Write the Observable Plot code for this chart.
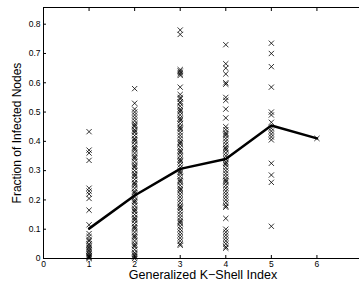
<!DOCTYPE html>
<html>
<head>
<meta charset="utf-8">
<script src="https://cdn.jsdelivr.net/npm/d3@7"></script>
<script src="https://cdn.jsdelivr.net/npm/@observablehq/plot@0.6"></script>
<style>
html, body { margin: 0; padding: 0; background: #fff; }
</style>
</head>
<body>
<div id="chart"></div>
<script>
// Generalized K-Shell index columns
const shell1 = [0.433, 0.37, 0.36, 0.335, 0.24, 0.23, 0.22, 0.205, 0.165, 0.115, 0.085, 0.075, 0.065, 0.06, 0.05, 0.045, 0.04, 0.035, 0.03, 0.025, 0.02, 0.015, 0.01, 0.008, 0.005, 0.003, 0.0];
const shell2 = [0.58, 0.53, 0.51, 0.50, 0.49, 0.48, 0.47, 0.46, 0.455, 0.45, 0.44, 0.435, 0.43, 0.42, 0.41, 0.405, 0.40, 0.39, 0.38, 0.375, 0.37, 0.36, 0.35, 0.345, 0.34, 0.33, 0.32, 0.315, 0.31, 0.30, 0.29, 0.285, 0.28, 0.27, 0.26, 0.255, 0.25, 0.24, 0.23, 0.225, 0.22, 0.21, 0.20, 0.195, 0.19, 0.18, 0.17, 0.165, 0.16, 0.15, 0.14, 0.135, 0.13, 0.12, 0.11, 0.105, 0.10, 0.09, 0.08, 0.075, 0.07, 0.06, 0.05, 0.045, 0.04, 0.03, 0.02, 0.015, 0.01, 0.005, 0.0];
const shell3 = [0.78, 0.765, 0.645, 0.64, 0.635, 0.63, 0.625, 0.585, 0.56, 0.55, 0.545, 0.535, 0.53, 0.52, 0.51, 0.505, 0.50, 0.49, 0.48, 0.475, 0.47, 0.46, 0.45, 0.445, 0.44, 0.43, 0.42, 0.41, 0.40, 0.395, 0.39, 0.38, 0.37, 0.365, 0.36, 0.35, 0.34, 0.335, 0.33, 0.32, 0.31, 0.30, 0.295, 0.29, 0.28, 0.27, 0.265, 0.26, 0.25, 0.24, 0.235, 0.23, 0.22, 0.21, 0.20, 0.19, 0.18, 0.175, 0.17, 0.16, 0.15, 0.14, 0.13, 0.125, 0.12, 0.11, 0.10, 0.09, 0.08, 0.07, 0.06, 0.05, 0.045];
const shell4 = [0.73, 0.665, 0.65, 0.63, 0.60, 0.595, 0.55, 0.54, 0.51, 0.48, 0.45, 0.44, 0.43, 0.425, 0.42, 0.41, 0.40, 0.39, 0.38, 0.375, 0.37, 0.36, 0.35, 0.34, 0.33, 0.325, 0.32, 0.31, 0.30, 0.29, 0.28, 0.27, 0.265, 0.26, 0.25, 0.24, 0.23, 0.22, 0.21, 0.20, 0.19, 0.18, 0.175, 0.137, 0.10, 0.09, 0.08, 0.07, 0.06, 0.05, 0.04, 0.035];
const shell5 = [0.735, 0.70, 0.655, 0.585, 0.50, 0.49, 0.465, 0.445, 0.435, 0.425, 0.415, 0.405, 0.325, 0.285, 0.26, 0.11];
const shell6 = [0.41];

// average line
const meanX = [1, 2, 3, 4, 5, 6];
const meanY = [0.102, 0.215, 0.306, 0.34, 0.454, 0.41];

const xTicks = [0, 1, 2, 3, 4, 5, 6];
const yTicks = [0, 0.1, 0.2, 0.3, 0.4, 0.5, 0.6, 0.7, 0.8];

const columns = [shell1, shell2, shell3, shell4, shell5, shell6];
const points = columns.flatMap((vals, i) => vals.map(v => ({k: i + 1, f: v})));
const meanLine = meanX.map((x, i) => ({k: x, f: meanY[i]}));

const font = "'Liberation Sans', Arial, Helvetica, sans-serif";

const chart = Plot.plot({
  width: 359,
  height: 287,
  marginLeft: 43,
  marginRight: -3,
  marginTop: 7,
  marginBottom: 29,
  style: {fontFamily: font, background: "#fff", color: "#000"},
  x: {domain: [0, 7]},
  y: {domain: [0, 0.857]},
  marks: [
    Plot.frame({anchor: "top", stroke: "#000", strokeWidth: 1}),
    Plot.frame({anchor: "bottom", stroke: "#000", strokeWidth: 1}),
    Plot.frame({anchor: "left", stroke: "#000", strokeWidth: 1}),
    Plot.axisX(xTicks, {anchor: "bottom", tickSize: -3, tickPadding: 5, fontSize: 8.5, label: null, tickFormat: d => String(d)}),
    Plot.axisX(xTicks, {anchor: "top", tickSize: -3, label: null, tickFormat: () => ""}),
    Plot.axisY(yTicks, {anchor: "left", tickSize: -3, tickPadding: 6, fontSize: 8.5, label: null, tickFormat: d => d === 0 ? "0" : d.toFixed(1)}),
    Plot.dot(points, {x: "k", y: "f", symbol: "times", r: 2.5, stroke: "#000", strokeWidth: 0.8}),
    Plot.line(meanLine, {x: "k", y: "f", stroke: "#000", strokeWidth: 2.5}),
    Plot.text(["Generalized K\u2212Shell Index"], {frameAnchor: "bottom", dy: 20, fontSize: 12.5, fill: "#000"}),
    Plot.text(["Fraction of Infected Nodes"], {frameAnchor: "left", dx: -26, rotate: -90, textAnchor: "middle", fontSize: 12, fill: "#000"})
  ]
});
document.getElementById("chart").appendChild(chart);
</script>
</body>
</html>
